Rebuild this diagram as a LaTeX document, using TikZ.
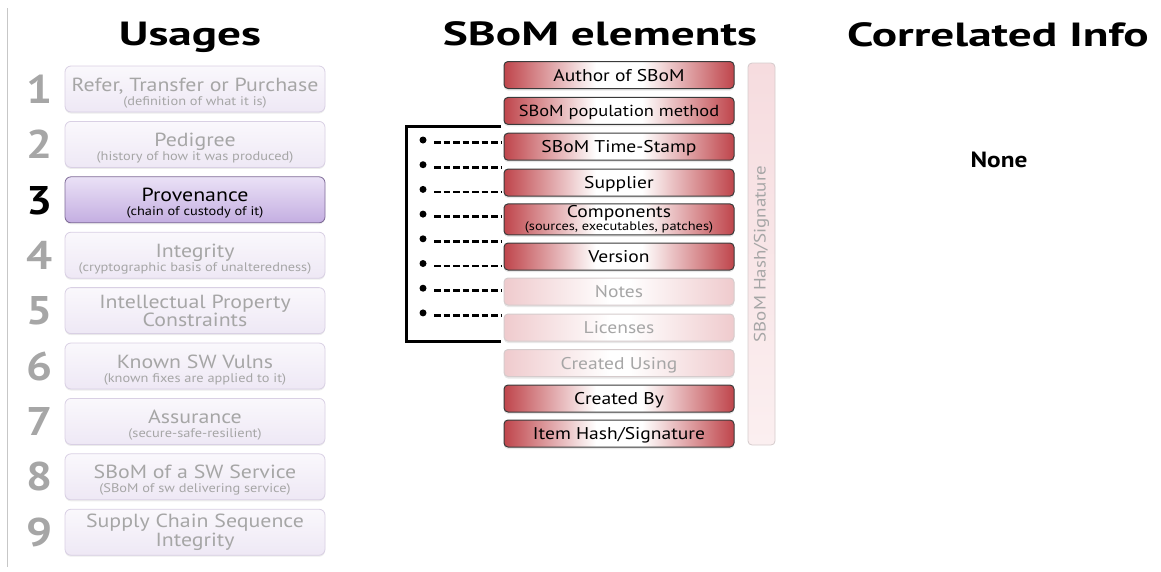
\documentclass[tikz,border=0pt]{standalone}
\usepackage{fontspec}
\setmainfont{PT Sans}[FakeStretch=1.15]
\newfontfamily\ttlfont{PT Sans Bold}[FakeStretch=1.41]
\usetikzlibrary{shadows}
\definecolor{fadetxt}{HTML}{A6A6A6}
\definecolor{usetop}{HTML}{FAF8FC}
\definecolor{usebot}{HTML}{EEE8F5}
\definecolor{usedraw}{HTML}{D9D0E4}
\definecolor{seltop}{HTML}{EAE1F6}
\definecolor{selbot}{HTML}{C4AEE1}
\definecolor{seldraw}{HTML}{7E6A97}
\definecolor{sbred}{HTML}{BF454B}
\definecolor{sbpink}{HTML}{EFCACD}
\definecolor{elemdraw}{HTML}{3A3A3A}
\definecolor{fadedraw}{HTML}{D5CBCC}
\definecolor{bartop}{HTML}{F6DCDF}
\definecolor{barbot}{HTML}{FBEFF0}
\pgfdeclarehorizontalshading{redbar}{100bp}{color(0bp)=(sbred); color(25bp)=(sbred); color(45bp)=(white); color(55bp)=(white); color(75bp)=(sbred); color(100bp)=(sbred)}
\pgfdeclarehorizontalshading{pinkbar}{100bp}{color(0bp)=(sbpink); color(25bp)=(sbpink); color(48bp)=(white); color(52bp)=(white); color(75bp)=(sbpink); color(100bp)=(sbpink)}
\newcommand{\usesub}[1]{{\fontsize{12.5}{13}\selectfont #1}}

\begin{document}
\begin{tikzpicture}[x=1pt, y=-1pt,
  ttl/.style={font=\ttlfont\fontsize{33.5}{34}\selectfont, anchor=base},
  usenum/.style={font=\bfseries\fontsize{40}{40}\selectfont, text=fadetxt, anchor=base},
  usebox/.style={draw=usedraw, line width=0.8pt, rounded corners=6pt, top color=usetop, bottom color=usebot,
    minimum width=260pt, minimum height=46pt, inner sep=0pt, align=center, text=fadetxt,
    font=\fontsize{19}{14}\selectfont, text height=35pt, text depth=3pt,
    drop shadow={shadow xshift=0pt, shadow yshift=-1.5pt, opacity=0.15}},
  usetwo/.style={usebox, font=\fontsize{19}{17}\selectfont, text height=, text depth=},
  usesel/.style={usebox, draw=seldraw, top color=seltop, bottom color=selbot, text=black},
  elem/.style={draw=elemdraw, line width=1pt, rounded corners=4pt, shading=redbar,
    minimum width=230pt, minimum height=27pt, inner sep=0pt, text depth=0pt,
    font=\fontsize{17}{17}\selectfont,
    drop shadow={shadow xshift=0pt, shadow yshift=-2pt, opacity=0.18}},
  elemfade/.style={elem, draw=fadedraw, shading=pinkbar, text=fadetxt},
  hashbar/.style={draw=fadedraw, line width=0.8pt, rounded corners=4pt, top color=bartop, bottom color=barbot,
    minimum width=27pt, minimum height=382pt, inner sep=0pt},
  dot/.style={circle, fill=black, inner sep=0pt, minimum size=7pt},
  dashln/.style={line width=2.8pt, dash pattern=on 6.5pt off 3pt},
  bracket/.style={line width=3pt}]
  \useasboundingbox (0,0) rectangle (1161,571);
  \draw[color=black!22] (7,8) -- (7,567);

  \node[ttl] (usages) at (190,45) {Usages};
  \node[ttl] (elements) at (600,45) {SBoM elements};
  \node[ttl] (correlated) at (998,46) {Correlated Info};

  \node[usenum] (n1) at (40,103) {1};
  \node[usenum] (n2) at (40,158) {2};
  \node[usenum, text=black] (n3) at (40,214) {3};
  \node[usenum] (n4) at (40,269) {4};
  \node[usenum] (n5) at (40,324) {5};
  \node[usenum] (n6) at (40,380) {6};
  \node[usenum] (n7) at (40,435) {7};
  \node[usenum] (n8) at (40,490) {8};
  \node[usenum] (n9) at (40,546) {9};

  \node[usebox] (u1) at (195,89) {Refer, Transfer or Purchase\\\usesub{(definition of what it is)}};
  \node[usebox] (u2) at (195,144.4) {Pedigree\\\usesub{(history of how it was produced)}};
  \node[usesel] (u3) at (195,199.8) {Provenance\\\usesub{(chain of custody of it)}};
  \node[usebox] (u4) at (195,255.2) {Integrity\\\usesub{(cryptographic basis of unalteredness)}};
  \node[usetwo] (u5) at (195,310.6) {Intellectual Property\\Constraints};
  \node[usebox] (u6) at (195,366) {Known SW Vulns\\\usesub{(known fixes are applied to it)}};
  \node[usebox] (u7) at (195,421.4) {Assurance\\\usesub{(secure-safe-resilient)}};
  \node[usebox] (u8) at (195,476.8) {SBoM of a SW Service\\\usesub{(SBoM of sw delivering service)}};
  \node[usetwo] (u9) at (195,532.2) {Supply Chain Sequence\\Integrity};

  \node[hashbar] (hash) at (761.5,254) {};
  \node[rotate=90, text=fadetxt, font=\fontsize{16.5}{16}\selectfont] (hashlbl) at (hash.center) {SBoM Hash/Signature};

  \node[elem] (author) at (619,75) {Author of SBoM};
  \node[elem, font=\fontsize{16}{16}\selectfont] (popmethod) at (619,110.9) {SBoM population method};
  \node[elem] (timestamp) at (619,146.7) {SBoM Time-Stamp};
  \node[elem] (supplier) at (619,182.6) {Supplier};
  \node[elem, minimum height=31pt, align=center, text depth=, execute at begin node={\rule{0pt}{20pt}}, font=\fontsize{17}{9.5}\selectfont] (components) at (619,219.4) {Components\\{\fontsize{12.5}{11}\selectfont (sources, executables, patches)}};
  \node[elem] (version) at (619,256.5) {Version};
  \node[elemfade] (notes) at (619,291.5) {Notes};
  \node[elemfade] (licenses) at (619,327.5) {Licenses};
  \node[elemfade] (createdusing) at (619,363) {Created Using};
  \node[elem] (createdby) at (619,398.5) {Created By};
  \node[elem] (itemhash) at (619,433.5) {Item Hash/Signature};

  \coordinate (brtop) at (501,126);
  \coordinate (brbot) at (501,341);
  \draw[bracket] (brtop) -- (406,126) -- (406,341) -- (brbot);

  \node[dot] (d1) at (423,140) {};
  \node[dot] (d2) at (423,164.7) {};
  \node[dot] (d3) at (423,189.4) {};
  \node[dot] (d4) at (423,214.1) {};
  \node[dot] (d5) at (423,238.8) {};
  \node[dot] (d6) at (423,263.5) {};
  \node[dot] (d7) at (423,288.2) {};
  \node[dot] (d8) at (423,312.9) {};
  \coordinate (t1) at (501,142.5);
  \coordinate (t2) at (501,167.2);
  \coordinate (t3) at (501,191.9);
  \coordinate (t4) at (501,216.6);
  \coordinate (t5) at (501,241.3);
  \coordinate (t6) at (501,266);
  \coordinate (t7) at (501,290.7);
  \coordinate (t8) at (501,315.4);
  \draw[dashln] ([xshift=7.5pt]d1.east |- t1) -- (t1);
  \draw[dashln] ([xshift=7.5pt]d2.east |- t2) -- (t2);
  \draw[dashln] ([xshift=7.5pt]d3.east |- t3) -- (t3);
  \draw[dashln] ([xshift=7.5pt]d4.east |- t4) -- (t4);
  \draw[dashln] ([xshift=7.5pt]d5.east |- t5) -- (t5);
  \draw[dashln] ([xshift=7.5pt]d6.east |- t6) -- (t6);
  \draw[dashln] ([xshift=7.5pt]d7.east |- t7) -- (t7);
  \draw[dashln] ([xshift=7.5pt]d8.east |- t8) -- (t8);

  \node[font=\bfseries\fontsize{22}{22}\selectfont] (none) at (999,160) {None};
\end{tikzpicture}
\end{document}
